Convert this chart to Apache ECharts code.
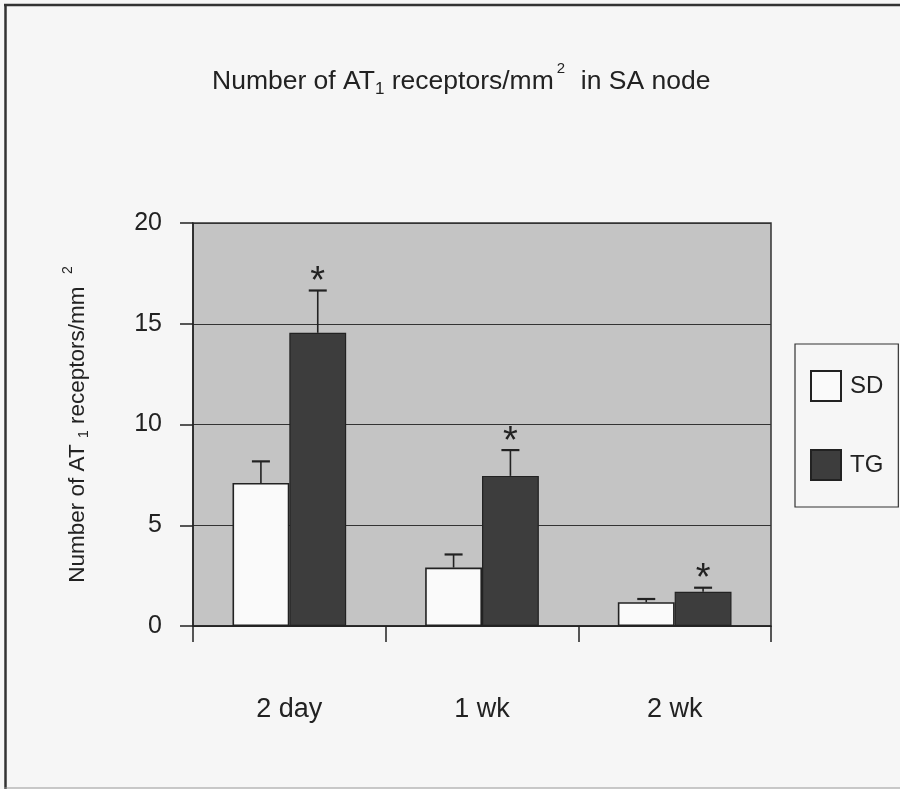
<!DOCTYPE html>
<html><head><meta charset="utf-8">
<script src="https://cdn.jsdelivr.net/npm/echarts@6/dist/echarts.min.js"></script>
<style>html,body{margin:0;padding:0;background:#f6f6f6}#c{width:900px;height:789px}</style>
</head><body><div id="c"></div>
<script>
// ---- data ----
const categories = ['2 day', '1 wk', '2 wk'];
const seriesNames = ['SD', 'TG'];
const sdMean = [7.1, 2.9, 1.18];
const sdErr = [1.07, 0.65, 0.16];
const tgMean = [14.55, 7.45, 1.7];
const tgErr = [2.1, 1.28, 0.2];
const tgSignificant = [1, 1, 1];
const yMin = 0, yMax = 20, yStep = 5;

const FONT = '"Liberation Sans", Arial, sans-serif';
const INK = '#222';
const GAP = 0.41;

function errData(mean, err, sig) {
  return mean.map((m, i) => [i, m, err[i], sig ? sig[i] : 0]);
}
function errRender(side) {
  return function (params, api) {
    const i = api.value(0), m = api.value(1), e = api.value(2), s = api.value(3);
    const band = api.size([1, 0])[0];
    const bw = band * (1 - GAP) / 2;
    const c = api.coord([i, m]);
    const t = api.coord([i, m + e]);
    const x = c[0] + side * bw / 2;
    const ch = [
      {type: 'line', shape: {x1: x, y1: c[1], x2: x, y2: t[1]}, style: {stroke: INK, lineWidth: 1.6}},
      {type: 'line', shape: {x1: x - 9, y1: t[1], x2: x + 9, y2: t[1]}, style: {stroke: INK, lineWidth: 2.2}}
    ];
    if (s) {
      ch.push({type: 'text', x: x, y: t[1] + 11, style: {text: '*', font: '38px ' + FONT, fill: INK, align: 'center', verticalAlign: 'bottom'}});
    }
    return {type: 'group', children: ch};
  };
}

const chart = echarts.init(document.getElementById('c'), null, {renderer: 'canvas'});
chart.setOption({
  backgroundColor: '#f6f6f6',
  animation: false,
  textStyle: {fontFamily: FONT, color: INK},
  title: {
    text: 'Number of AT{sub|1} receptors/mm{sup|2}  in SA node',
    left: 207, top: 56,
    textStyle: {
      fontSize: 26.5, fontWeight: 'normal', color: INK, fontFamily: FONT,
      rich: {
        sub: {fontSize: 17, padding: [15, 0, 0, 0], fontFamily: FONT, color: INK},
        sup: {fontSize: 15, padding: [0, 1, 26, 3], fontFamily: FONT, color: INK}
      }
    }
  },
  legend: {
    data: seriesNames,
    orient: 'vertical', left: 795, top: 344,
    padding: [26, 15, 26, 15], itemGap: 47, itemWidth: 30, itemHeight: 30,
    icon: 'rect', borderColor: '#333', borderWidth: 1.2, backgroundColor: '#f6f6f6',
    textStyle: {fontSize: 24, color: INK, fontFamily: FONT, padding: [0, 0, 0, 4]}
  },
  grid: {
    left: 193, right: 129, top: 223, bottom: 163,
    show: true, backgroundColor: '#c4c4c4', borderColor: '#333', borderWidth: 1.5
  },
  xAxis: {
    type: 'category', data: categories,
    axisLine: {lineStyle: {color: INK, width: 1.5}},
    axisTick: {show: true, length: 16, alignWithLabel: false, lineStyle: {color: INK, width: 1.5}},
    axisLabel: {fontSize: 27, color: INK, margin: 70, fontFamily: FONT}
  },
  yAxis: {
    type: 'value', min: yMin, max: yMax, interval: yStep,
    name: 'Number of AT {sub|1} receptors/mm  {sup|2}',
    nameLocation: 'middle', nameRotate: 90, nameGap: 98,
    nameTextStyle: {
      fontSize: 22.5, color: INK, fontFamily: FONT,
      rich: {
        sub: {fontSize: 14, padding: [12, 0, 0, 0], fontFamily: FONT, color: INK},
        sup: {fontSize: 14, padding: [0, 0, 20, 0], fontFamily: FONT, color: INK}
      }
    },
    axisLine: {show: true, lineStyle: {color: INK, width: 1.5}},
    axisTick: {show: true, length: 13, lineStyle: {color: INK, width: 1.5}},
    axisLabel: {fontSize: 25, color: INK, margin: 31, fontFamily: FONT},
    splitLine: {lineStyle: {color: '#333', width: 1.2}}
  },
  series: [
    {name: 'SD', type: 'bar', data: sdMean, barGap: '0%', barCategoryGap: (GAP * 100) + '%',
      itemStyle: {color: '#fafafa', borderColor: INK, borderWidth: 1.6}},
    {name: 'TG', type: 'bar', data: tgMean, barGap: '0%', barCategoryGap: (GAP * 100) + '%',
      itemStyle: {color: '#3d3d3d', borderColor: INK, borderWidth: 1.2}},
    {type: 'custom', data: errData(sdMean, sdErr, null), renderItem: errRender(-1), z: 5, silent: true},
    {type: 'custom', data: errData(tgMean, tgErr, tgSignificant), renderItem: errRender(1), z: 5, silent: true}
  ],
  graphic: [
    {type: 'line', shape: {x1: 5.5, y1: 4, x2: 5.5, y2: 789}, style: {stroke: '#333', lineWidth: 2.5}},
    {type: 'line', shape: {x1: 4, y1: 5, x2: 900, y2: 5}, style: {stroke: '#333', lineWidth: 2.5}},
    {type: 'line', shape: {x1: 4, y1: 788, x2: 900, y2: 788}, style: {stroke: '#999', lineWidth: 1}}
  ]
});
</script></body></html>
